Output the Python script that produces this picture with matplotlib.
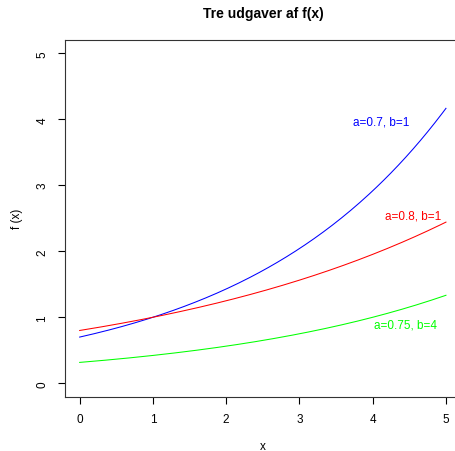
import numpy as np
import matplotlib
matplotlib.use("Agg")
import matplotlib.pyplot as plt

plt.rcParams['font.family'] = ['Liberation Sans', 'DejaVu Sans']

# Parameters of f(x) = a^(b - x) as stated in the labels
a_vals = [0.7, 0.8, 0.75]
b_vals = [1, 1, 4]
colors = ['#0000FF', '#FF0000', '#00FF00']
labels = ['a=0.7, b=1', 'a=0.8, b=1', 'a=0.75, b=4']
label_x = [4.12, 4.55, 4.45]
label_y = [3.97, 2.54, 0.89]
x_ticks = [0, 1, 2, 3, 4, 5]
y_ticks = [0, 1, 2, 3, 4, 5]

x = np.linspace(0, 5, 201)

fig = plt.figure(figsize=(4.56, 4.52), dpi=100)
ax = fig.add_axes([65/456, 1 - 397.5/452, 395.6/456, 356.5/452])

for a, b, c, lab, lx, ly in zip(a_vals, b_vals, colors, labels, label_x, label_y):
    ax.plot(x, a ** (b - x), color=c, lw=0.75)
    ax.text(lx, ly, lab, color=c, fontsize=8.5, ha='center', va='center')

ax.set_xlim(-0.2, 5.2)
ax.set_ylim(-0.2, 5.2)
ax.set_xticks(x_ticks)
ax.set_yticks(y_ticks)
ax.tick_params(axis='both', direction='out', length=5, width=0.8, labelsize=8.5, pad=7)
for lbl in ax.get_yticklabels():
    lbl.set_rotation(90)
    lbl.set_va('center')
for s in ax.spines.values():
    s.set_linewidth(0.8)
    s.set_color('#333333')

ax.set_xlabel('x', fontsize=8.5, va='center')
ax.xaxis.set_label_coords(0.5 * (80 + 446) / 456 * 456 / 395.6 - 65 / 395.6, (5 - 54.5) / 356.5)
ax.set_ylabel('f (x)', fontsize=8.5, va='center')
ax.yaxis.set_label_coords((17 - 65) / 395.6, 0.5)
fig.text(0.5 * (80 + 446) / 456, 1 - 14/452, 'Tre udgaver af f(x)', ha='center', va='center',
         fontsize=10, fontweight='bold')

fig.savefig('out.png', dpi=100)
